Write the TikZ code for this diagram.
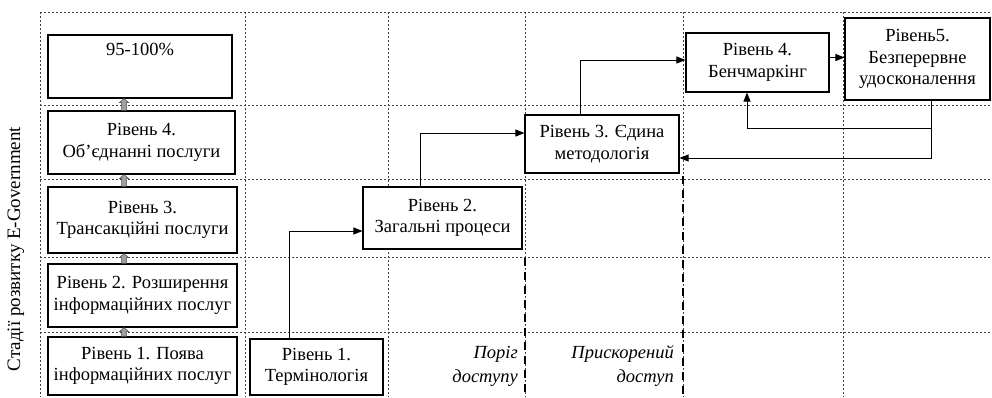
\documentclass[tikz,border=0pt]{standalone}
\usepackage{fontspec}
\setmainfont{Liberation Serif}
\usetikzlibrary{arrows.meta,calc}
\begin{document}
\begin{tikzpicture}[x=1pt,y=-1pt,
 box/.style={draw=black, line width=1.1pt, fill=white, align=center, inner sep=0pt, font=\fontsize{18.5}{21.5}\selectfont},
 gridline/.style={black!75, line width=0.6pt, dash pattern=on 2pt off 2pt},
 thresh/.style={black, line width=2pt, dash pattern=on 8pt off 6pt},
 arr/.style={black, line width=1pt, -{Triangle[length=9pt,width=7pt]}},
 lab/.style={font=\fontsize{18.5}{21.5}\selectfont\itshape, anchor=east, inner sep=0pt},
 garr/.style={fill=gray!75, draw=black!70, line width=0.5pt}
]
\useasboundingbox (0,0) rectangle (992,397);
% grid
\foreach \yy in {12,105,179,257,332} \draw[gridline] (40,\yy) -- (992,\yy);
\foreach \xx in {40,245,388,525,683,843} \draw[gridline] (\xx,12) -- (\xx,397);
% threshold lines
\coordinate (d1a) at (525,258); \coordinate (d1b) at (525,397);
\coordinate (d2a) at (683,176); \coordinate (d2b) at (683,397);
\draw[thresh] (d1a) -- (d1b);
\draw[thresh] (d2a) -- (d2b);
% vertical label
\node[rotate=90, font=\fontsize{19}{21}\selectfont, inner sep=0pt] (ylab) at (16,249) {Стадії розвитку E-Government};
% left column
\node[box, minimum width=184pt, minimum height=63pt, label={[anchor=north, yshift=-5pt, font=\fontsize{18.5}{21.5}\selectfont]north:95-100\%}] (b5) at (140,66.5) {};
\node[box, minimum width=187pt, minimum height=63pt] (b4) at (141.5,142.5) {Рівень 4.\\Об’єднанні послуги};
\node[box, minimum width=189pt, minimum height=66pt] (b3) at (142.5,220) {Рівень 3.\\Трансакційні послуги};
\node[box, minimum width=189pt, minimum height=63pt] (b2) at (142.5,295.5) {Рівень 2. Розширення\\інформаційних послуг};
\node[box, minimum width=189pt, minimum height=58pt] (b1) at (142.5,366) {Рівень 1. Поява\\інформаційних послуг};
\coordinate (ax) at (124,0);
\foreach \a/\b in {b1/b2,b2/b3,b3/b4,b4/b5} {
  \filldraw[garr] ($(\a.north -| ax)+(-2.5,0)$) -- ($(\b.south -| ax)+(-2.5,4)$) -- ($(\b.south -| ax)+(-4.5,4)$) -- (\b.south -| ax) -- ($(\b.south -| ax)+(4.5,4)$) -- ($(\b.south -| ax)+(2.5,4)$) -- ($(\a.north -| ax)+(2.5,0)$) -- cycle;
}
% staircase
\node[box, minimum width=133pt, minimum height=56pt] (t1) at (316.5,367) {Рівень 1.\\Термінологія};
\node[box, minimum width=159pt, minimum height=62pt] (t2) at (442.5,218) {Рівень 2.\\Загальні процеси};
\node[box, minimum width=154pt, minimum height=58pt] (t3) at (602,144) {Рівень 3. Єдина\\методологія};
\node[box, minimum width=143pt, minimum height=59pt] (t4) at (757.5,62.5) {Рівень 4.\\Бенчмаркінг};
\node[box, minimum width=145pt, minimum height=82pt] (t5) at (917.5,59) {Рівень5.\\Безперервне\\удосконалення};
\draw[arr] ([xshift=-27.5pt]t1.north) |- ([yshift=-13pt]t2.west);
\draw[arr] ([xshift=-22.5pt]t2.north) |- ([yshift=11pt]t3.west);
\draw[arr] ([xshift=-22pt]t3.north) |- ([yshift=2.5pt]t4.west);
\draw[arr] ([yshift=5pt]t4.east) -- ([yshift=5pt]t4.east -| t5.west);
\coordinate (fb) at ([xshift=13.5pt]t5.south);
\draw[arr] (fb) -- ++(0,28) -| ([xshift=-10.5pt]t4.south);
\draw[arr] (fb) |- ([yshift=-14pt]t3.east);
% italic labels
\node[lab] (p1) at (518,354) {Поріг};
\node[lab] (p2) at (518,378) {доступу};
\node[lab] (q1) at (674,354) {Прискорений};
\node[lab] (q2) at (674,378) {доступ};
\end{tikzpicture}
\end{document}
